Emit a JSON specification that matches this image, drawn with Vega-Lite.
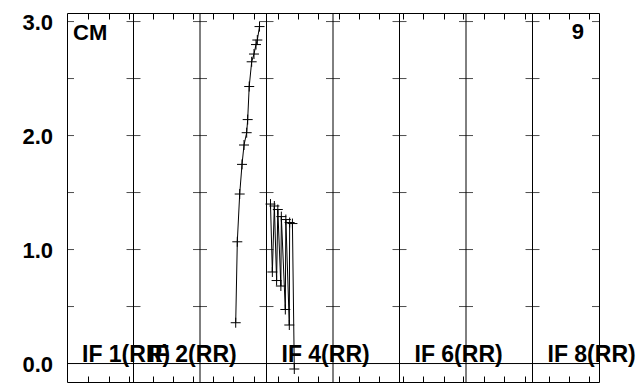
{
  "$schema": "https://vega.github.io/schema/vega-lite/v6.json",
  "width": 532,
  "height": 369,
  "autosize": {"type": "none"},
  "padding": {"left": 67, "top": 13, "right": 37, "bottom": 10},
  "background": "white",
  "config": {
    "view": {"stroke": "black", "strokeWidth": 1},
    "font": "Liberation Sans"
  },
  "datasets": {
    "panels": [
      {"boundary": 1}, {"boundary": 2}, {"boundary": 3}, {"boundary": 4},
      {"boundary": 5}, {"boundary": 6}, {"boundary": 7}
    ],
    "baseline": [{"level": 0}],
    "yLabels": [
      {"v": 0, "t": "0.0"},
      {"v": 1, "t": "1.0"},
      {"v": 2, "t": "2.0"},
      {"v": 3, "t": "3.0"}
    ],
    "crossTicks": [
      {"y": 0.5, "x": [0, 1, 2, 3, 4, 5, 6, 7, 8]},
      {"y": 1.0, "x": [0, 1, 2, 3, 4, 5, 6, 7, 8]},
      {"y": 1.5, "x": [0, 1, 2, 3, 4, 5, 6, 7, 8]},
      {"y": 2.0, "x": [0, 1, 2, 3, 4, 5, 6, 7, 8]},
      {"y": 2.5, "x": [0, 1, 2, 3, 4, 5, 6, 7, 8]},
      {"y": 3.0, "x": [0, 1, 2, 3, 4, 5, 6, 7, 8]}
    ],
    "labels": [
      {"panel": 0, "label": "IF 1(RR)"},
      {"panel": 1, "label": "IF 2(RR)"},
      {"panel": 3, "label": "IF 4(RR)"},
      {"panel": 5, "label": "IF 6(RR)"},
      {"panel": 7, "label": "IF 8(RR)"}
    ],
    "series": [
      {"s": "a", "i": 1, "x": 2.537, "y": 0.358},
      {"s": "a", "i": 2, "x": 2.561, "y": 1.068},
      {"s": "a", "i": 3, "x": 2.597, "y": 1.487},
      {"s": "a", "i": 4, "x": 2.632, "y": 1.747},
      {"s": "a", "i": 5, "x": 2.662, "y": 1.917},
      {"s": "a", "i": 6, "x": 2.702, "y": 2.025},
      {"s": "a", "i": 7, "x": 2.717, "y": 2.140},
      {"s": "a", "i": 8, "x": 2.740, "y": 2.430},
      {"s": "a", "i": 9, "x": 2.777, "y": 2.647},
      {"s": "a", "i": 10, "x": 2.812, "y": 2.715},
      {"s": "a", "i": 11, "x": 2.842, "y": 2.798},
      {"s": "a", "i": 12, "x": 2.862, "y": 2.838},
      {"s": "a", "i": 13, "x": 2.895, "y": 2.956},
      {"s": "b", "i": 1, "x": 3.060, "y": 1.399},
      {"s": "b", "i": 2, "x": 3.088, "y": 0.803},
      {"s": "b", "i": 3, "x": 3.118, "y": 1.382},
      {"s": "b", "i": 4, "x": 3.152, "y": 0.728},
      {"s": "b", "i": 5, "x": 3.170, "y": 1.351},
      {"s": "b", "i": 6, "x": 3.216, "y": 0.680},
      {"s": "b", "i": 7, "x": 3.223, "y": 1.289},
      {"s": "b", "i": 8, "x": 3.283, "y": 0.474},
      {"s": "b", "i": 9, "x": 3.291, "y": 1.263},
      {"s": "b", "i": 10, "x": 3.343, "y": 0.338},
      {"s": "b", "i": 11, "x": 3.348, "y": 1.237},
      {"s": "b", "i": 12, "x": 3.390, "y": 1.228},
      {"s": "b", "i": 13, "x": 3.418, "y": -0.048}
    ]
  },
  "layer": [
    {
      "data": {"name": "baseline"},
      "mark": {"type": "rule", "color": "black", "strokeWidth": 1},
      "encoding": {
        "y": {
          "field": "level",
          "type": "quantitative",
          "scale": {"domain": [-0.162, 3.075], "nice": false, "zero": false},
          "axis": null
        }
      }
    },
    {
      "data": {"name": "panels"},
      "mark": {"type": "rule", "color": "black", "strokeWidth": 1},
      "encoding": {
        "x": {
          "field": "boundary",
          "type": "quantitative",
          "scale": {"domain": [0, 8], "nice": false, "zero": false},
          "axis": {
            "orient": "bottom",
            "values": [0.320, 0.636, 0.937, 1.298, 1.598, 1.899, 2.200, 2.501, 2.812, 3.177, 3.478, 3.779, 4.086, 4.386, 4.696, 5.057, 5.349, 5.665, 5.950, 6.275, 6.576, 6.892, 7.244, 7.553, 7.854],
            "tickSize": -6,
            "tickColor": "black",
            "tickWidth": 1,
            "labels": false,
            "domain": false,
            "grid": false,
            "title": null
          }
        }
      }
    },
    {
      "data": {"name": "crossTicks"},
      "transform": [{"flatten": ["x"]}],
      "mark": {"type": "tick", "orient": "horizontal", "size": 14, "thickness": 1, "color": "black", "clip": true},
      "encoding": {
        "x": {
          "field": "x",
          "type": "quantitative",
          "axis": {
            "orient": "top",
            "values": [0.320, 0.636, 0.937, 1.298, 1.598, 1.899, 2.200, 2.501, 2.812, 3.177, 3.478, 3.779, 4.086, 4.386, 4.696, 5.057, 5.349, 5.665, 5.950, 6.275, 6.576, 6.892, 7.244, 7.553, 7.854],
            "tickSize": -6,
            "tickColor": "black",
            "tickWidth": 1,
            "labels": false,
            "domain": false,
            "grid": false,
            "title": null
          }
        },
        "y": {"field": "y", "type": "quantitative", "axis": null}
      }
    },
    {
      "data": {"name": "yLabels"},
      "mark": {"type": "text", "align": "right", "baseline": "middle", "dx": -14, "dy": 1, "font": "Liberation Sans", "fontWeight": "bold", "fontSize": 22, "color": "black"},
      "encoding": {
        "x": {"datum": 0, "type": "quantitative", "axis": null},
        "y": {"field": "v", "type": "quantitative", "axis": null},
        "text": {"field": "t"}
      }
    },
    {
      "data": {"name": "labels"},
      "mark": {"type": "text", "align": "left", "baseline": "alphabetic", "dx": 15, "dy": -2, "font": "Liberation Sans", "fontWeight": "bold", "fontSize": 23, "color": "black"},
      "encoding": {
        "x": {"field": "panel", "type": "quantitative", "axis": null},
        "y": {"datum": 0, "type": "quantitative", "axis": null},
        "text": {"field": "label"}
      }
    },
    {
      "data": {"name": "series"},
      "mark": {"type": "line", "color": "black", "strokeWidth": 1},
      "encoding": {
        "x": {"field": "x", "type": "quantitative", "axis": null},
        "y": {"field": "y", "type": "quantitative", "axis": null},
        "detail": {"field": "s"},
        "order": {"field": "i"}
      }
    },
    {
      "data": {"name": "series"},
      "mark": {"type": "point", "shape": "M-1,0H1M0,-1V1", "filled": false, "size": 100, "stroke": "black", "strokeWidth": 1, "opacity": 1},
      "encoding": {
        "x": {"field": "x", "type": "quantitative", "axis": null},
        "y": {"field": "y", "type": "quantitative", "axis": null}
      }
    },
    {
      "data": {"values": [{"t": "CM"}]},
      "mark": {"type": "text", "align": "left", "baseline": "middle", "dx": 6, "dy": 11, "font": "Liberation Sans", "fontWeight": "bold", "fontSize": 22, "color": "black"},
      "encoding": {
        "x": {"datum": 0, "type": "quantitative", "axis": null},
        "y": {"datum": 3, "type": "quantitative", "axis": null},
        "text": {"field": "t"}
      }
    },
    {
      "data": {"values": [{"t": "9"}]},
      "mark": {"type": "text", "align": "right", "baseline": "middle", "dx": -15, "dy": 10, "font": "Liberation Sans", "fontWeight": "bold", "fontSize": 22, "color": "black"},
      "encoding": {
        "x": {"datum": 8, "type": "quantitative", "axis": null},
        "y": {"datum": 3, "type": "quantitative", "axis": null},
        "text": {"field": "t"}
      }
    }
  ]
}
